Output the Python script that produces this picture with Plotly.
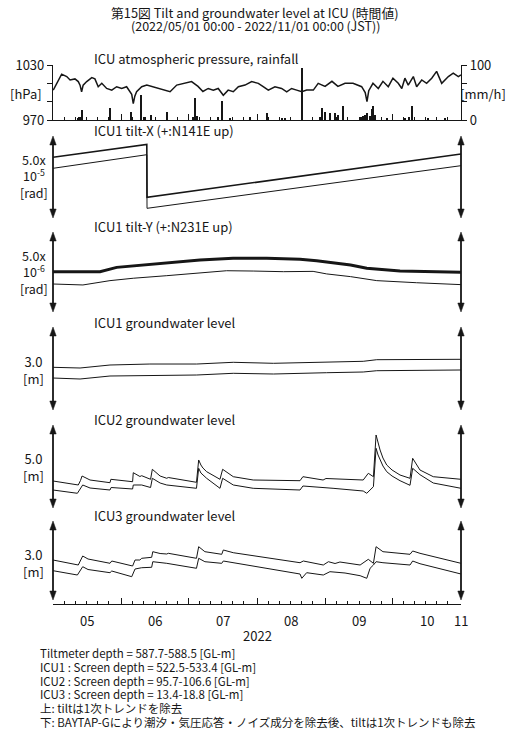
import pandas as pd
import plotly.graph_objects as go

W, H = 509, 731
LEFT, RIGHT = 53, 461
TOP, BOTTOM = 63, 604
START = pd.Timestamp("2022-05-01 00:00")
END = pd.Timestamp("2022-11-01 00:00")
FONT = "Noto Sans CJK JP"
INK = "#161616"

# ---- data: x values are days elapsed since 2022-05-01 00:00 JST ----
# atmospheric pressure [hPa]
pres_day = [0.1, 2.0, 3.9, 6.2, 7.7, 9.9, 11.4, 12.2, 12.9, 13.6, 15.2, 17.5, 18.9, 20.4, 22.0,
            24.2, 26.5, 28.7, 31.0, 33.2, 34.7, 35.5, 36.2, 36.9, 37.7, 40.0, 42.3, 45.2, 48.3,
            50.5, 52.8, 55.8, 58.8, 62.5, 65.4, 67.6, 70.0, 72.3, 74.5, 76.8, 79.0, 81.3, 83.6,
            86.6, 89.6, 92.6, 94.8, 97.1, 100.1, 103.1, 105.4, 107.6, 109.9, 112.2, 114.4, 117.4,
            119.6, 122.7, 125.8, 128.5, 131.7, 135.3, 139.2, 140.8, 141.6, 142.4, 144.3, 146.7,
            148.8, 151.2, 153.3, 155.7, 157.3, 158.7, 160.2, 162.5, 164.0, 166.3, 168.5, 170.8,
            173.0, 175.3, 178.3, 180.5, 182.8, 184.0]
pres_hpa = [1002.6, 1012.0, 1020.0, 1017.4, 1013.7, 1014.8, 1011.9, 1008.0, 1000.8, 1008.0,
            1011.9, 1016.3, 1014.8, 1006.3, 1010.0, 1004.4, 1002.6, 1006.3, 1004.4, 1006.3,
            1000.8, 998.0, 987.8, 996.0, 1000.8, 1006.3, 1008.1, 1006.3, 1004.4, 1002.6, 1000.8,
            1008.1, 1010.0, 1011.9, 1006.7, 1001.1, 1004.4, 1002.6, 1004.4, 997.0, 1002.6,
            1000.8, 1006.3, 1008.1, 1011.9, 1010.0, 1006.3, 1002.6, 1006.3, 1004.4, 1000.8,
            1004.4, 1002.6, 1000.8, 1002.6, 1002.6, 1010.0, 1006.7, 1012.2, 1006.7, 1010.0,
            1010.0, 1006.3, 1000.0, 990.0, 1002.0, 1010.0, 1004.4, 1012.2, 1006.3, 1015.6,
            1010.0, 1004.4, 1015.6, 1008.1, 1017.4, 1006.3, 1013.7, 1010.0, 1015.6, 1023.0,
            1010.0, 1017.4, 1021.1, 1017.4, 1019.2]

# hourly rainfall [mm/h]
rain_day = [11.05, 11.7, 12.4, 12.9, 25.7, 35.0, 39.6, 41.5, 44.0, 51.3, 63.1, 64.0, 64.9,
            74.4, 76.1, 79.8, 88.8, 96.4, 103.3, 104.6, 112.2, 120.4, 121.2, 122.7, 124.9,
            127.2, 128.5, 130.8, 138.9, 139.8, 140.7, 141.6, 143.0, 143.9, 144.5, 145.2,
            150.6, 158.7, 160.5, 161.8, 169.1, 176.8]
rain_mm = [4, 6, 5, 18, 22, 15, 45, 5, 9, 15, 6, 40, 8, 5, 35, 4, 5, 13, 4, 3, 95, 5, 22, 14,
           13, 13, 9, 25, 5, 7, 9, 13, 8, 20, 26, 10, 3, 4, 6, 25, 4, 3]

# ICU1 tilt-X [x1e-5 rad]; raw (upper) and corrected (lower)
tiltx_day = [0.0, 42.3, 42.4, 184.0]
tiltx_raw = [3.70, 4.49, 1.26, 3.90]
tiltx_cor = [3.03, 3.86, 0.59, 3.19]

# ICU1 tilt-Y [x1e-6 rad]
tilty_raw_day = [0.0, 21.2, 28.7, 48.3, 66.3, 81.2, 96.4, 111.4, 118.9, 134.2, 141.5, 156.5, 184.0]
tilty_raw = [2.52, 2.52, 2.79, 3.04, 3.25, 3.36, 3.36, 3.29, 3.21, 2.94, 2.73, 2.56, 2.48]
tilty_cor_day = [0.0, 13.5, 25.7, 36.2, 51.3, 66.3, 78.3, 90.3, 103.9, 117.3, 123.4, 134.2,
                 146.0, 164.0, 184.0]
tilty_cor = [1.75, 1.69, 1.96, 2.11, 2.27, 2.46, 2.58, 2.56, 2.52, 2.54, 2.38, 2.21, 1.96,
             1.83, 1.71]

# ICU1 groundwater level [m]
gw1_day = [0.0, 12.2, 25.7, 43.7, 64.8, 81.3, 99.4, 123.4, 139.9, 146.0, 184.0]
gw1_raw = [1.543, 1.518, 1.626, 1.662, 1.662, 1.724, 1.688, 1.746, 1.760, 1.818, 1.832]
gw1_cor = [1.156, 1.120, 1.229, 1.250, 1.265, 1.326, 1.301, 1.348, 1.373, 1.420, 1.446]

# ICU2 groundwater level [m]
gw2_raw_day = [0.0, 11.4, 12.4, 13.1, 16.7, 25.7, 26.1, 35.9, 36.2, 39.2, 40.0, 44.0, 44.8,
               48.3, 51.3, 52.0, 64.7, 65.7, 66.7, 67.6, 69.3, 71.7, 75.3, 76.5, 81.3, 90.3,
               111.4, 112.7, 121.8, 123.1, 139.9, 142.2, 144.5, 145.7, 146.6, 147.5, 148.8,
               150.5, 152.9, 156.5, 161.0, 162.2, 165.5, 171.5, 184.0]
gw2_raw = [1.627, 1.386, 1.657, 1.928, 1.687, 1.524, 1.729, 1.584, 2.127, 1.898, 1.946, 1.729,
           2.331, 1.928, 1.789, 1.837, 1.548, 2.892, 2.590, 2.410, 2.187, 1.988, 1.729, 2.331,
           1.886, 1.687, 1.645, 1.886, 1.687, 1.777, 1.687, 2.090, 1.886, 4.398, 3.855, 3.494,
           3.012, 2.590, 2.289, 1.988, 1.789, 2.994, 2.289, 1.886, 1.729]
gw2_cor_day = [0.0, 11.0, 13.4, 16.7, 25.7, 26.2, 35.9, 36.2, 40.0, 44.0, 44.8, 48.3, 51.3,
               64.7, 65.7, 66.7, 69.3, 71.7, 75.3, 76.5, 81.3, 90.3, 111.4, 112.7, 121.8,
               126.3, 139.9, 141.5, 144.5, 145.7, 146.6, 147.5, 148.8, 150.5, 152.9, 156.5,
               161.0, 162.2, 165.5, 171.5, 184.0]
gw2_cor = [1.084, 0.886, 1.386, 1.205, 1.084, 1.235, 1.145, 1.386, 1.386, 1.235, 1.789, 1.506,
           1.386, 1.187, 2.392, 2.108, 1.789, 1.566, 1.187, 1.789, 1.386, 1.187, 1.084, 1.325,
           1.247, 1.187, 1.024, 0.886, 1.283, 3.596, 3.193, 2.892, 2.530, 2.187, 1.928, 1.645,
           1.367, 2.392, 2.006, 1.506, 1.187]

# ICU3 groundwater level [m]
gw3_raw_day = [0.0, 11.4, 13.4, 15.8, 25.7, 26.5, 35.9, 37.0, 39.2, 40.0, 44.5, 45.0, 48.3,
               51.3, 52.0, 64.7, 65.7, 68.5, 76.1, 76.8, 81.3, 111.4, 112.9, 121.9, 124.2,
               127.2, 129.4, 133.9, 138.5, 142.2, 144.5, 145.7, 148.8, 161.0, 162.2, 165.5, 184.0]
gw3_raw = [1.519, 1.329, 1.671, 1.557, 1.394, 1.481, 1.291, 1.519, 1.519, 1.583, 1.621, 1.834,
           1.766, 1.747, 1.773, 1.583, 2.024, 1.834, 1.735, 1.899, 1.796, 1.416, 1.481, 1.329,
           1.454, 1.386, 1.443, 1.393, 1.329, 1.545, 1.393, 2.024, 1.834, 1.735, 1.861, 1.773,
           1.393]
gw3_cor_day = [0.0, 11.0, 13.4, 15.8, 25.7, 26.5, 35.5, 37.0, 40.0, 44.5, 45.0, 51.3, 64.7,
               65.7, 68.5, 76.1, 76.8, 81.3, 111.4, 112.2, 114.4, 121.9, 124.9, 131.7, 138.5,
               141.5, 143.0, 144.5, 145.7, 148.8, 161.0, 162.2, 165.5, 184.0]
gw3_cor = [1.113, 0.949, 1.264, 1.158, 1.037, 1.101, 0.885, 1.177, 1.226, 1.242, 1.454, 1.393,
           1.204, 1.583, 1.454, 1.393, 1.481, 1.416, 0.987, 0.824, 1.037, 0.949, 1.075, 1.025,
           0.923, 0.824, 1.204, 1.329, 1.454, 1.416, 1.329, 1.481, 1.378, 0.987]

month_edges = ["2022-05-01", "2022-06-01", "2022-07-01", "2022-08-01", "2022-09-01",
               "2022-10-01", "2022-11-01"]
month_labels = ["05", "06", "07", "08", "09", "10", "11"]
month_label_at = ["2022-05-16 12:00", "2022-06-16", "2022-07-16 12:00", "2022-08-16 12:00",
                  "2022-09-16", "2022-10-16 12:00", "2022-11-01"]
minor_ticks = [f"2022-{m:02d}-{d:02d}" for m in range(5, 11) for d in (6, 11, 16, 21, 26)]

footnotes = [
    "Tiltmeter depth = 587.7-588.5 [GL-m]",
    "ICU1 : Screen depth = 522.5-533.4 [GL-m]",
    "ICU2 : Screen depth = 95.7-106.6 [GL-m]",
    "ICU3 : Screen depth = 13.4-18.8 [GL-m]",
    "上: tiltは1次トレンドを除去",
    "下: BAYTAP-Gにより潮汐・気圧応答・ノイズ成分を除去後、tiltは1次トレンドも除去",
]


def when(days):
    return [START + pd.Timedelta(days=d) for d in days]


def fx(px):
    return (px - LEFT) / (RIGHT - LEFT)


def fy(py):
    return (BOTTOM - py) / (BOTTOM - TOP)


def line(days, vals, yaxis, width, xaxis="x"):
    return go.Scatter(x=when(days), y=vals, mode="lines", xaxis=xaxis, yaxis=yaxis,
                      line=dict(color=INK, width=width), hoverinfo="skip")


fig = go.Figure()
fig.add_trace(go.Bar(x=when(rain_day), y=rain_mm, xaxis="x2", yaxis="y2",
                     width=3.5e7, marker=dict(color=INK, line=dict(width=0))))
fig.add_trace(line(pres_day, pres_hpa, "y", 1.5, xaxis="x2"))
fig.add_trace(line(tiltx_day, tiltx_raw, "y3", 1.6))
fig.add_trace(line(tiltx_day, tiltx_cor, "y3", 1.0))
fig.add_trace(line(tilty_raw_day, tilty_raw, "y4", 3.0))
fig.add_trace(line(tilty_cor_day, tilty_cor, "y4", 1.0))
fig.add_trace(line(gw1_day, gw1_raw, "y5", 1.0))
fig.add_trace(line(gw1_day, gw1_cor, "y5", 1.0))
fig.add_trace(line(gw2_raw_day, gw2_raw, "y6", 1.0))
fig.add_trace(line(gw2_cor_day, gw2_cor, "y6", 1.0))
fig.add_trace(line(gw3_raw_day, gw3_raw, "y7", 1.0))
fig.add_trace(line(gw3_cor_day, gw3_cor, "y7", 1.0))

time_axis = dict(type="date", range=[START, END], showline=True, linecolor=INK, linewidth=1.2,
                 ticks="inside", ticklen=6, tickwidth=1, tickcolor=INK, tickmode="array",
                 tickvals=month_edges, showticklabels=False, showgrid=False, zeroline=False,
                 automargin=False,
                 minor=dict(tickmode="array", tickvals=minor_ticks, ticks="inside",
                            ticklen=3, tickwidth=1, tickcolor=INK))


def value_axis(rng, labelled, unlabelled, **extra):
    return dict(range=rng, showline=True, linecolor=INK, linewidth=1.2, ticks="outside",
                ticklen=5, tickcolor=INK, tickmode="array", tickvals=labelled,
                automargin=False, showgrid=False, zeroline=False, tickfont=dict(size=13),
                minor=dict(tickmode="array", tickvals=unlabelled, ticks="outside",
                           ticklen=5, tickcolor=INK, showgrid=False),
                **extra)


def hidden(top, bottom, rng):
    return dict(domain=[fy(bottom), fy(top)], range=rng, visible=False, anchor="x",
                fixedrange=True, automargin=False)


fig.update_layout(
    width=W, height=H,
    margin=dict(l=LEFT, r=W - RIGHT, t=TOP, b=H - BOTTOM, pad=0, autoexpand=False),
    paper_bgcolor="white", plot_bgcolor="rgba(0,0,0,0)", showlegend=False,
    font=dict(family=FONT, size=13, color=INK), bargap=0,
    xaxis=dict(time_axis, domain=[0, 1], anchor="free", position=0),
    xaxis2=dict(time_axis, domain=[0, 1], anchor="y", matches="x"),
    yaxis=value_axis([970, 1030], [970, 1030], [990, 1010],
                     domain=[fy(120), fy(65)], anchor="x2"),
    yaxis2=value_axis([0, 100], [0, 100], [33.33, 66.67],
                      overlaying="y", side="right", anchor="x2"),
    yaxis3=hidden(136, 218, [0, 5]),
    yaxis4=hidden(232, 312, [0, 5]),
    yaxis5=hidden(327, 410, [0, 3]),
    yaxis6=hidden(425, 508, [0, 5]),
    yaxis7=hidden(521, 600, [0, 3]),
)

notes = []


def note(text, xpx, ypx, size=13, xanchor="center"):
    notes.append(dict(text=text, xref="paper", yref="paper", x=fx(xpx), y=fy(ypx),
                      xanchor=xanchor, yanchor="middle", showarrow=False,
                      font=dict(family=FONT, size=size, color=INK)))


note("第15図 Tilt and groundwater level at ICU (時間値)", 255, 12.5, 12.8)
note("(2022/05/01 00:00 - 2022/11/01 00:00 (JST))", 255, 25.5, 12.5)

panel_titles = [
    ("ICU atmospheric pressure, rainfall", 58),
    ("ICU1 tilt-X (+:N141E up)", 130),
    ("ICU1 tilt-Y (+:N231E up)", 226),
    ("ICU1 groundwater level", 322),
    ("ICU2 groundwater level", 419),
    ("ICU3 groundwater level", 515),
]
for text, ypx in panel_titles:
    note(text, 92, ypx, 13, "left")

note("[hPa]", 44, 93, 13, "right")
note("[mm/h]", 483, 93, 13)
note("5.0x<br>10<sup>-5</sup><br>[rad]", 34, 176, 12.5)
note("5.0x<br>10<sup>-6</sup><br>[rad]", 34, 272, 12.5)
note("3.0<br>[m]", 33, 370, 13)
note("5.0<br>[m]", 33, 467, 13)
note("3.0<br>[m]", 33, 563, 13)

for lab, at in zip(month_labels, month_label_at):
    notes.append(dict(text=lab, xref="x", yref="paper", x=at, y=fy(620), xanchor="center",
                      yanchor="middle", showarrow=False,
                      font=dict(family=FONT, size=13, color=INK)))
note("2022", 257, 635, 13)

for i, text in enumerate(footnotes):
    note(text, 38, 653 + 13.8 * i, 11.5, "left")

fig.update_layout(annotations=notes)

# double-headed scale arrows on both sides of each lower panel
shapes = []
arrow_spans = [(136, 218), (232, 312), (327, 410), (425, 508), (521, 600)]
HEAD_L, HEAD_W = 9, 3.2
for xpx in (LEFT, RIGHT):
    for top, bottom in arrow_spans:
        shapes.append(dict(type="line", xref="paper", yref="paper", x0=fx(xpx), x1=fx(xpx),
                           y0=fy(top + 4), y1=fy(bottom - 4),
                           line=dict(color=INK, width=1.8)))
        up = (f"M{fx(xpx)},{fy(top)} L{fx(xpx - HEAD_W)},{fy(top + HEAD_L)} "
              f"L{fx(xpx + HEAD_W)},{fy(top + HEAD_L)} Z")
        down = (f"M{fx(xpx)},{fy(bottom)} L{fx(xpx - HEAD_W)},{fy(bottom - HEAD_L)} "
                f"L{fx(xpx + HEAD_W)},{fy(bottom - HEAD_L)} Z")
        for p in (up, down):
            shapes.append(dict(type="path", xref="paper", yref="paper", path=p,
                               fillcolor=INK, line=dict(color=INK, width=0.5)))
fig.update_layout(shapes=shapes)

fig.write_html("out.html")
